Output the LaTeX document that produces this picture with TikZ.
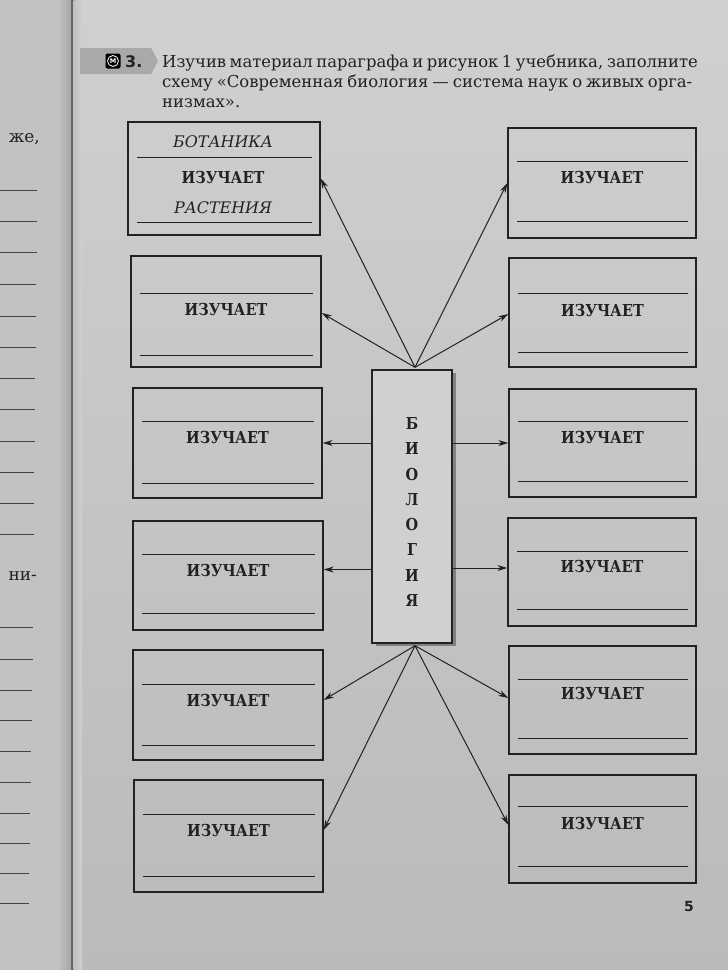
\documentclass[tikz,border=0pt]{standalone}
\usepackage{fontspec}
\setmainfont{DejaVu Serif}
\newfontfamily\condf[FakeStretch=0.88]{DejaVu Serif}
\newfontfamily\dsans{DejaVu Sans}
\usetikzlibrary{shadows,arrows.meta,calc,fit}
\definecolor{pagecol}{HTML}{C6C6C4}
\definecolor{pagetop}{HTML}{D0D0CE}
\definecolor{leftcol}{HTML}{C2C2C0}
\definecolor{ink}{HTML}{222222}
\definecolor{cboxcol}{HTML}{D0D0CE}
\definecolor{tabcol}{HTML}{A9A9A7}
\newcommand\schbox[8]{%
  \node[box,fit={(#2,#3)(#4,#5)}] (#1) {};
  \draw[fl] (#2+9,#6) -- (#4-8,#6);
  \draw[fl] (#2+9,#7) -- (#4-8,#7);
  \node[lbl] (#1t) at ({(#2+#4)/2},#8) {ИЗУЧАЕТ};
}
\begin{document}
\begin{tikzpicture}[x=1bp,y=-1bp,
  box/.style={draw=ink,line width=1.4bp,rectangle,inner sep=0pt},
  fl/.style={draw=ink,line width=1bp},
  arr/.style={draw=ink,line width=1bp,-{Stealth[length=10bp,width=6bp]}},
  lbl/.style={font=\condf\bfseries\fontsize{16.5}{16.5}\selectfont,text=ink,inner sep=0pt},
  ital/.style={font=\itshape\fontsize{16}{16}\selectfont,text=ink,inner sep=0pt},
  head/.style={font=\fontsize{16.5}{19}\selectfont,text=ink,inner sep=0pt,anchor=base west},
]
\useasboundingbox (0,0) rectangle (728,970);
% page background
\shade[top color=pagetop,bottom color=pagecol!94!black] (0,0) rectangle (728,970);
\fill[leftcol] (0,0) rectangle (62,970);
\shade[left color=leftcol,right color=black!35] (58,0) rectangle (71,970);
\fill[black!60] (71,0) rectangle (73.5,970);
\shade[left color=black!25,right color=pagetop] (73.5,0) rectangle (82,970);
% left page fragments
\node[head,anchor=base east,font=\fontsize{17}{19}\selectfont] (lt1) at (40,142) {же,};
\node[head,anchor=base east,font=\fontsize{17}{19}\selectfont] (lt2) at (37,580) {ни-};
\foreach \yy/\xe in {190/37,221/37,252/37,284/36,316/36,347/36,378/35,409/35,441/35,472/34,503/34,534/34,
                     627/33,659/33,690/32,720/32,751/31,782/31,813/30,843/30,873/29,903/29}
  \draw[ink!85,line width=0.9bp] (-1,\yy) -- (\xe,\yy);
% header
\fill[tabcol] (80,48) -- (151,48) -- (158,61) -- (151,74) -- (80,74) -- cycle;
\node[fill=black,rounded corners=2bp,minimum size=15bp,inner sep=0pt] (micon) at (113,61) {};
\node[circle,draw=white,line width=0.8bp,inner sep=0pt,minimum size=11bp,text=white,
      font=\dsans\bfseries\fontsize{6.5}{7}\selectfont] (mletter) at (113,61) {М};
\node[head,font=\dsans\bfseries\fontsize{16}{16}\selectfont] (num) at (125,67) {3.};
\node[head] (h1) at (162,67) {\makebox[530bp][s]{Изучив материал параграфа и рисунок 1 учебника, заполните}};
\node[head] (h2) at (162,87) {\makebox[530bp][s]{схему «Современная биология — система наук о живых орга-}};
\node[head] (h3) at (162,107) {низмах».};
% left boxes
\node[box,fit={(128,122)(320,235)}] (L1) {};
\draw[fl] (137,157) -- (312,157);
\draw[fl] (137,222) -- (312,222);
\node[ital] (L1a) at (223,142) {БОТАНИКА};
\node[lbl] (L1t) at (223,178) {ИЗУЧАЕТ};
\node[ital] (L1b) at (223,208) {РАСТЕНИЯ};
\schbox{L2}{131}{256}{321}{367}{293}{355}{310}
\schbox{L3}{133}{388}{322}{498}{421}{483}{438}
\schbox{L4}{133}{521}{323}{630}{554}{613}{571}
\schbox{L5}{133}{650}{323}{760}{684}{745}{701}
\schbox{L6}{134}{780}{323}{892}{814}{876}{831}
% right boxes
\schbox{R1}{508}{128}{696}{238}{161}{221}{178}
\schbox{R2}{509}{258}{696}{367}{293}{352}{311}
\schbox{R3}{509}{389}{696}{497}{421}{481}{438}
\schbox{R4}{508}{518}{696}{626}{551}{609}{567}
\schbox{R5}{509}{646}{696}{754}{679}{738}{694}
\schbox{R6}{509}{775}{696}{883}{806}{866}{824}
% central box
\node[box,fill=cboxcol,fit={(372,370)(452,643)},
      drop shadow={shadow xshift=4bp,shadow yshift=-3bp,opacity=0.55,fill=black!70}] (bio) {};
\node[lbl,align=center,font=\condf\bfseries\fontsize{16.5}{25.3}\selectfont] (biot) at (412,512)
  {Б\\И\\О\\Л\\О\\Г\\И\\Я};
% connectors
\coordinate (top) at ($(bio.north)+(3,-2)$);
\coordinate (bot) at ($(bio.south)+(3,2)$);
\coordinate (l2e) at ([yshift=-1.5bp]L2.east);
\coordinate (r2w) at ([yshift=-1.5bp]R2.west);
\coordinate (l4e) at ([yshift=6bp]L4.east);
\coordinate (r4w) at ([yshift=4bp]R4.west);
\coordinate (l5e) at ([yshift=5bp]L5.east);
\coordinate (l6e) at ([yshift=6bp]L6.east);
\coordinate (r5w) at ([yshift=2bp]R5.west);
\coordinate (r6w) at ([yshift=4bp]R6.west);
\draw[arr] (top) -- (L1.east);
\draw[arr] (top) -- (l2e);
\draw[arr] (top) -- (R1.west);
\draw[arr] (top) -- (r2w);
\draw[arr] (bio.west |- L3.east) -- (L3.east);
\draw[arr] (bio.east |- R3.west) -- (R3.west);
\draw[arr] (bio.west |- l4e) -- (l4e);
\draw[arr] (bio.east |- r4w) -- (r4w);
\draw[arr] (bot) -- (l5e);
\draw[arr] (bot) -- (l6e);
\draw[arr] (bot) -- (r5w);
\draw[arr] (bot) -- (r6w);
% page number
\node[head,font=\dsans\bfseries\fontsize{14}{14}\selectfont] (pnum) at (684,911) {5};
\end{tikzpicture}
\end{document}
